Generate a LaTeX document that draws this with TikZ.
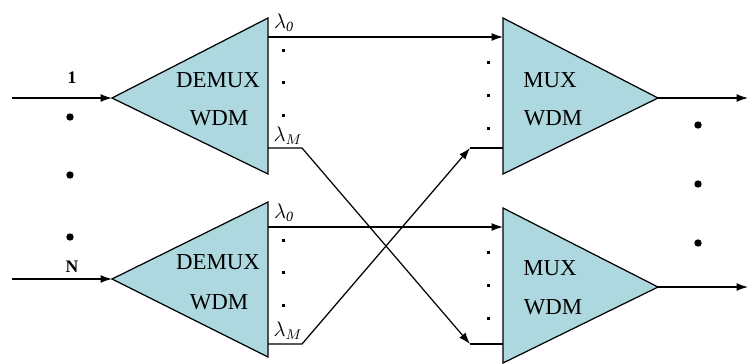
\documentclass[tikz,border=0pt]{standalone}
\usepackage{fontspec}
\setmainfont{Liberation Serif}
\usetikzlibrary{arrows.meta}
\definecolor{wdmblue}{RGB}{174,216,224}

\begin{document}
\begin{tikzpicture}[x=0.02cm,y=-0.02cm, every node/.style={font=\fontsize{13}{15}\selectfont},
  tri/.style={draw,fill=wdmblue,line width=0.7pt},
  sig/.style={-{Latex[length=2.3mm,width=1.6mm]},line width=0.7pt},
  wire/.style={line width=0.7pt},
  lam/.style={font=\large},
  chan/.style={font=\normalsize\bfseries}]
\useasboundingbox (0,0) rectangle (749,363);
% demux / mux triangles
\draw[tri] (112,98) coordinate (dm1) -- (268,18) -- (268,174) -- cycle;
\draw[tri] (112,279) coordinate (dm2) -- (268,202) -- (268,357) -- cycle;
\draw[tri] (658,98) coordinate (mx1) -- (503,18) -- (503,174) -- cycle;
\draw[tri] (658,287) coordinate (mx2) -- (503,208) -- (503,363) -- cycle;
\node (t1) at (218,80) {DEMUX}; \node (w1) at (219,118) {WDM};
\node (t2) at (218,262) {DEMUX}; \node (w2) at (219,302) {WDM};
\node (t3) at (550,80) {MUX}; \node (w3) at (553,118) {WDM};
\node (t4) at (550,268) {MUX}; \node (w4) at (553,307) {WDM};
% ports
\coordinate (in1) at (12,98); \coordinate (in2) at (12,279);
\coordinate (dm1-0) at (268,37); \coordinate (dm1-M) at (268,148);
\coordinate (dm2-0) at (268,227); \coordinate (dm2-M) at (268,344);
\coordinate (mx1-0) at (503,37); \coordinate (mx1-M) at (503,148);
\coordinate (mx2-0) at (503,227); \coordinate (mx2-M) at (503,344);
\coordinate (k1) at (470,344); \coordinate (k2) at (470,148);
\coordinate (out1) at (748,98); \coordinate (out2) at (748,287);
% labels
\node[chan] (n1) at (72,78) {1};
\node[chan] (nN) at (72,267) {N};
\node[lam] (l10) at (284,23) {$\lambda_{\mathit{0}}$};
\node[lam] (l1M) at (288,136) {$\lambda_M$};
\node[lam] (l20) at (284,213) {$\lambda_{\mathit{0}}$};
\node[lam] (l2M) at (288,331) {$\lambda_M$};
% connectors
\draw[sig] (in1) -- (dm1);
\draw[sig] (in2) -- (dm2);
\draw[sig] (dm1-0) -- (mx1-0);
\draw[sig] (dm2-0) -- (mx2-0);
\draw[sig] (dm1-M) -- ++(34,0) -- (k1);
\draw[wire] (k1) -- (mx2-M);
\draw[sig] (dm2-M) -- ++(34,0) -- (k2);
\draw[wire] (k2) -- (mx1-M);
\draw[sig] (mx1) -- (out1);
\draw[sig] (mx2) -- (out2);
% dots
\foreach \y in {50,82,115,240,272,305}
  \fill (281.5,\y-1.5) rectangle ++(3,3);
\foreach \y in {62,95,128,252,285,318}
  \fill (486.5,\y-1.5) rectangle ++(3,3);
\foreach \y in {117,175,237}
  \fill (70,\y) circle[radius=2.1pt];
\foreach \y in {125,184,243}
  \fill (698,\y) circle[radius=2.1pt];
\end{tikzpicture}
\end{document}
